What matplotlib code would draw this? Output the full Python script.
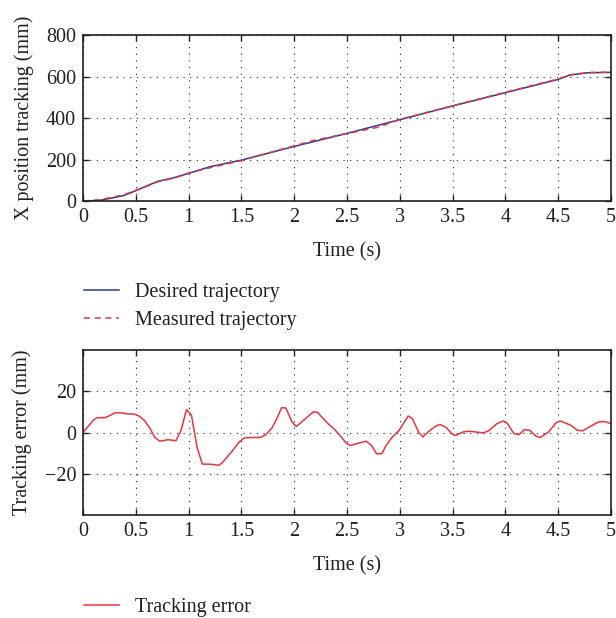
import matplotlib
matplotlib.use("Agg")
import matplotlib.pyplot as plt
from matplotlib.lines import Line2D

# Data
desired_t = [0, 0.16, 0.29, 0.39, 0.5, 0.6, 0.71, 0.86, 1.0, 1.2, 1.5, 2.0, 2.5, 3.0, 3.5, 4.0, 4.5, 4.61, 4.78, 5.0]
desired_x = [0, 3, 16, 27, 50, 72, 95, 112, 133, 165, 197, 263, 326, 392, 458, 522, 586, 607, 618, 620]

measured_t = [0, 0.16, 0.29, 0.39, 0.5, 0.6, 0.71, 0.86, 1.0, 1.2, 1.5, 1.9, 2.0, 2.2, 2.5, 2.8, 3.0, 3.5, 4.0, 4.5, 4.61, 4.78, 5.0]
measured_x = [0, 6, 20, 30, 52, 70, 93, 110, 135, 160, 195, 252, 266, 294, 325, 356, 393, 459, 524, 588, 608, 619, 621]

error_t = [0, 0.097, 0.129, 0.21, 0.252, 0.307, 0.37, 0.42, 0.485, 0.53, 0.58, 0.63, 0.68, 0.727,
           0.81, 0.88, 0.927, 0.98, 1.027, 1.08, 1.13, 1.21, 1.285, 1.32, 1.40, 1.48, 1.53, 1.61,
           1.68, 1.73, 1.79, 1.84, 1.88, 1.92, 1.98, 2.02, 2.08, 2.18, 2.22, 2.32, 2.39, 2.44,
           2.49, 2.53, 2.60, 2.68, 2.73, 2.78, 2.83, 2.87, 2.93, 2.99, 3.03, 3.08, 3.12, 3.18,
           3.22, 3.28, 3.34, 3.38, 3.44, 3.49, 3.53, 3.60, 3.66, 3.73, 3.79, 3.84, 3.92, 3.98,
           4.02, 4.08, 4.13, 4.18, 4.23, 4.29, 4.33, 4.41, 4.48, 4.52, 4.62, 4.68, 4.73, 4.81,
           4.88, 4.94, 5.0]
error_e = [0, 5.9, 7.1, 7.2, 8.2, 9.6, 9.5, 9.0, 9.0, 8.0, 5.9, 2.4, -2.4, -4.2,
           -3.5, -4.0, 0.8, 11.1, 8.4, -7.2, -15.3, -15.4, -15.9, -14.6, -9.8, -4.5, -2.6, -2.4,
           -2.4, -1.1, 2.2, 7.2, 12.0, 11.9, 5.1, 2.9, 5.5, 10.0, 9.8, 4.3, 1.1, -1.8,
           -5.0, -6.3, -5.3, -4.2, -6.1, -10.3, -10.3, -6.3, -2.1, 0.8, 4.0, 8.0, 6.7, 0,
           -2.1, 0.8, 3.1, 3.9, 2.4, -0.5, -1.4, 0.3, 0.6, 0.2, -0.2, 0.8, 4.3, 5.6,
           4.3, -0.5, -1.0, 1.4, 1.1, -1.8, -2.4, 0.3, 4.8, 5.6, 3.5, 1.1, 0.8, 3.1,
           5.1, 5.3, 4.3]

x_ticks = [0, 0.5, 1, 1.5, 2, 2.5, 3, 3.5, 4, 4.5, 5]
x_tick_labels = ["0", "0.5", "1", "1.5", "2", "2.5", "3", "3.5", "4", "4.5", "5"]
top_yticks = [0, 200, 400, 600, 800]
bot_yticks = [-20, 0, 20]

plt.rcParams['font.family'] = ['Liberation Serif', 'DejaVu Serif']
plt.rcParams['font.size'] = 14.5
plt.rcParams['axes.unicode_minus'] = True

W, H = 616, 618
FS = 14.5
TXT = '#231f20'
fig = plt.figure(figsize=(W / 100, H / 100), dpi=100)

blue = '#2b3a9a'
red = '#f0323c'
grid_kw = dict(color='#222222', linestyle=(0, (1, 5)), linewidth=0.8)

def style(ax):
    ax.tick_params(direction='in', top=True, right=True, length=4, width=1, labelsize=FS,
                   colors=TXT, pad=5)
    for s in ax.spines.values():
        s.set_linewidth(1.2)
        s.set_color(TXT)
    ax.grid(True, **grid_kw)
    ax.set_xticks(x_ticks)
    ax.set_xticklabels(x_tick_labels)
    ax.set_xlim(0, 5)
    ax.set_xlabel('Time (s)', fontsize=FS, color=TXT, labelpad=11)

ax1 = fig.add_axes([83 / W, 1 - 201 / H, 528 / W, 166 / H])
ax1.plot(desired_t, desired_x, color=blue, linewidth=1.1)
ax1.plot(measured_t, measured_x, color=red, linewidth=1.1, linestyle=(0, (4, 3)))
ax1.set_ylim(0, 800)
ax1.set_yticks(top_yticks)
ax1.set_ylabel('X position tracking (mm)', fontsize=FS, color=TXT)
style(ax1)
ax1.yaxis.set_label_coords(-0.093, 0.5)

ax2 = fig.add_axes([83 / W, 1 - 515 / H, 528 / W, 165 / H])
ax2.plot(error_t, error_e, color=red, linewidth=1.1)
ax2.set_ylim(-40, 40)
ax2.set_yticks(bot_yticks)
ax2.set_ylabel('Tracking error (mm)', fontsize=FS, color=TXT)
style(ax2)
ax2.yaxis.set_label_coords(-0.096, 0.5)

h1 = [Line2D([], [], color=blue, linewidth=1.1),
      Line2D([], [], color=red, linewidth=1.1, linestyle=(0, (4, 3)))]
fig.legend(h1, ['Desired trajectory', 'Measured trajectory'], loc='upper left',
           bbox_to_anchor=(66 / W, 1 - 265 / H), frameon=False, fontsize=FS,
           handlelength=1.75, handletextpad=0.8, labelspacing=0.45, labelcolor=TXT)
h2 = [Line2D([], [], color=red, linewidth=1.1)]
fig.legend(h2, ['Tracking error'], loc='upper left',
           bbox_to_anchor=(66 / W, 1 - 580 / H), frameon=False, fontsize=FS,
           handlelength=1.75, handletextpad=0.8, labelcolor=TXT)

fig.savefig('out.png', dpi=100)
